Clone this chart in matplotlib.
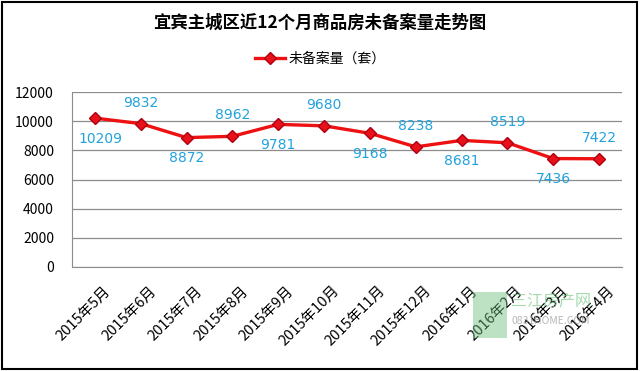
import numpy as np
import matplotlib.pyplot as plt
from matplotlib.patches import Rectangle
from matplotlib.transforms import ScaledTranslation

plt.rcParams['font.family'] = ['Noto Sans CJK SC', 'DejaVu Sans']

# Data
bulan = ['2015年5月', '2015年6月', '2015年7月', '2015年8月', '2015年9月', '2015年10月',
         '2015年11月', '2015年12月', '2016年1月', '2016年2月', '2016年3月', '2016年4月']
nilai = [10209, 9832, 8872, 8962, 9781, 9680, 9168, 8238, 8681, 8519, 7436, 7422]
posisi_label = ['below', 'above', 'below', 'above', 'below', 'above',
                'below', 'above', 'below', 'above', 'below', 'above']

fig = plt.figure(figsize=(6.4, 3.71), dpi=100)
ax = fig.add_axes([72 / 640, 1 - 267 / 371, 550 / 640, 175 / 371])

x = np.arange(len(nilai))
ax.plot(x, nilai, color='#ee1111', lw=2.4, marker='D', ms=6.5,
        mfc='#e8101a', mec='#b00010', label='未备案量（套）', zorder=3)

for xi, v, p in zip(x, nilai, posisi_label):
    dy = -15 if p == 'below' else 15
    dx = 4 if xi == 0 else 0
    ax.annotate(str(v), (xi, v), xytext=(dx, dy), textcoords='offset points',
                ha='center', va='center', color='#22a2dc', fontsize=10,
                family='DejaVu Sans')

ax.set_xlim(-0.5, len(nilai) - 0.5)
ax.set_ylim(0, 12000)
ax.set_yticks(np.arange(0, 12001, 2000))
ax.yaxis.grid(True, color='#8c8c8c', lw=0.9)
ax.set_axisbelow(True)
for s in ['top', 'right']:
    ax.spines[s].set_visible(False)
ax.spines['left'].set_color('#8c8c8c')
ax.spines['bottom'].set_color('#8c8c8c')
ax.tick_params(axis='both', length=0, labelsize=10)
ax.tick_params(axis='y', pad=13)
ax.set_xticks(x)
ax.set_xticklabels(bulan, rotation=45, ha='right', rotation_mode='anchor', fontsize=10.5)
ax.tick_params(axis='x', pad=12)
geser = ScaledTranslation(6 / 72, 0, fig.dpi_scale_trans)
for lbl in ax.get_xticklabels():
    lbl.set_transform(lbl.get_transform() + geser)

fig.text(0.5, 1 - 23 / 371, '宜宾主城区近12个月商品房未备案量走势图', ha='center', va='center',
         fontsize=12.5, fontweight='bold')
fig.legend(loc='center', bbox_to_anchor=(0.5, 1 - 59 / 371), frameon=False,
           fontsize=10, handlelength=2.2, handletextpad=0.2)

# watermark
fig.patches.append(Rectangle((473 / 640, 1 - 338 / 371), 34 / 640, 46 / 371,
                             transform=fig.transFigure, fc='#6cc07a', ec='none', alpha=0.45))
fig.text(551 / 640, 1 - 302 / 371, '三江房产网', color='#6cc07a', alpha=0.6, fontsize=11.5,
         ha='center', va='center')
fig.text(551 / 640, 1 - 321 / 371, '0831HOME.COM', color='#999999', alpha=0.7, fontsize=7.5,
         ha='center', va='center')

fig.patches.append(Rectangle((0.003, 0.005), 0.992, 0.99, transform=fig.transFigure,
                             fill=False, ec='black', lw=1.5))

fig.savefig('out.png', dpi=100)
